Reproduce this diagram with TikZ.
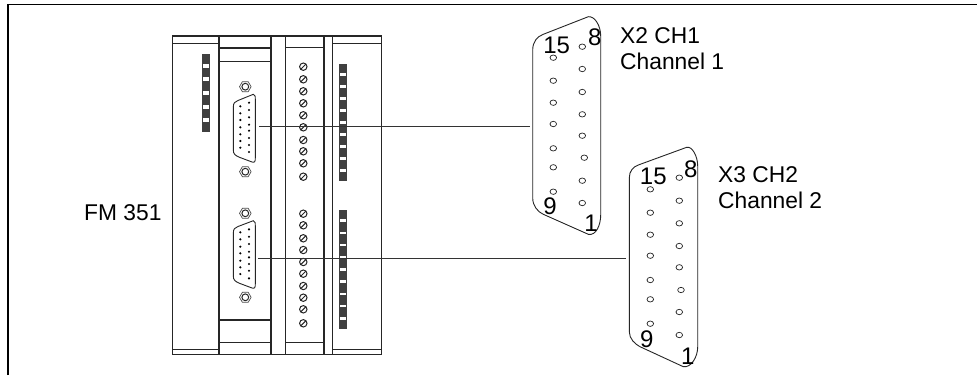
\documentclass[tikz,border=0pt]{standalone}
\usepackage{fontspec}
\setmainfont{Liberation Sans}
\tikzset{
  frameline/.style={line width=1.3pt,black},
  devline/.style={line width=1.1pt,black!85},
  wire/.style={line width=0.8pt,black!80},
  shell/.style={line width=0.9pt,black!85},
  pin/.style={fill=black,circle,inner sep=0pt,minimum size=2.4pt},
  hole/.style={draw=black!85,line width=0.7pt,ellipse,inner sep=0pt,minimum width=6.6pt,minimum height=5.4pt,fill=white},
  lab/.style={font=\fontsize{22.8}{22.8}\selectfont,inner sep=0pt,anchor=base west,text=black},
  num/.style={font=\fontsize{24}{24}\selectfont,inner sep=0pt,text=black},
  led/.style={fill=black!75,draw=black!75,line width=0.4pt},
}
\usetikzlibrary{shapes.geometric}
\begin{document}
\begin{tikzpicture}[x=1pt,y=-1pt]
\useasboundingbox (0,0) rectangle (977,375);
\fill[white] (0,0) rectangle (977,375);
% frame
\draw[frameline] (8,375) -- (8,4.5) -- (977,4.5);
% device housing
\draw[devline] (172.3,36) rectangle (381.7,354.7);
\draw[devline] (219,36) -- (219,354.7);
\draw[devline] (271,36) -- (271,354.7);
\draw[devline] (285.7,36) -- (285.7,354.7);
\draw[devline] (324,36) -- (324,354.7);
\draw[devline] (332.7,36) -- (332.7,354.7);
\draw[devline] (172.3,43.3) -- (219,43.3);
\draw[devline] (219,48) -- (271,48);
\draw[devline] (219,61.7) -- (271,61.7);
\draw[devline] (285.7,47.5) -- (324,47.5);
\draw[devline] (332.7,43.3) -- (381.7,43.3);
\draw[devline] (172.3,349.3) -- (219,349.3);
\draw[devline] (219,320) -- (271,320);
\draw[devline] (219,342.7) -- (271,342.7);
\draw[devline] (285.7,342.3) -- (324,342.3);
\draw[devline] (332.7,349.3) -- (381.7,349.3);
% LED bars
\draw[black!75,line width=0.6pt] (202.3,54.3) rectangle (209.3,131);
\foreach \i in {0,...,5} \fill[led] (202.3,54.3+13.65*\i) rectangle ++(7,8.5);
\draw[black!75,line width=0.6pt] (339,64) rectangle (346.3,180.7);
\foreach \i in {0,...,9} \fill[led] (339,64+12*\i) rectangle ++(7.3,8.6);
\draw[black!75,line width=0.6pt] (339,210) rectangle (346.3,328.3);
\foreach \i in {0,...,9} \fill[led] (339,210+12.2*\i) rectangle ++(7.3,8.5);
% screws
\foreach \v in {66.7,79.3,91.3,103.3,115.3,127.3,140,151.3,163.3,176.7,
                213.7,225.3,238.3,250,262,273.7,286,297.7,309.3,323.3}{
  \draw[line width=1pt,black!85] (303.3,\v) circle (3.7);
  \draw[line width=1pt,black!85] (300.6,\v+2.7) -- (306,\v-2.7);
}
% hex nuts
\foreach \v in {86.7,171.7,213.3,297.3}{
  \draw[line width=0.7pt,black!70] (245.3+5.8,\v) -- (245.3+2.9,\v-5) -- (245.3-2.9,\v-5) -- (245.3-5.8,\v) -- (245.3-2.9,\v+5) -- (245.3+2.9,\v+5) -- cycle;
  \draw[line width=1pt,black!85] (245.3,\v) circle (3.4);
}
% module sockets
\draw[shell] (253.3,94.3) .. controls (255.6,95) and (255.3,97) .. (255.3,99) -- (255.3,158) .. controls (255.3,161) and (255,163) .. (252,162) -- (240,157.5) .. controls (235,155.5) and (233.3,154) .. (233.3,150) -- (233.3,107) .. controls (233.3,103) and (235,101.5) .. (238,100.5) -- cycle;
\draw[shell] (253.3,220.7) .. controls (255.6,221.4) and (255.3,223.4) .. (255.3,225.4) -- (255.3,284) .. controls (255.3,287) and (255,289) .. (252,288) -- (240,283.5) .. controls (235,281.5) and (233.3,280) .. (233.3,276) -- (233.3,233) .. controls (233.3,229) and (235,227.5) .. (238,226.5) -- cycle;
\foreach \v in {106.3,113.3,120,127.3,134.3,141,147.7} \node[pin] at (240.3,\v) {};
\foreach \v in {102.7,110,117.3,124.7,130.7,138,145,152} \node[pin] at (249,\v) {};
\foreach \v in {232.3,239.3,246.7,253.3,260.7,267.3,274} \node[pin] at (240.3,\v) {};
\foreach \v in {229.3,236.7,244,251.7,257.3,264,270.7,278.3} \node[pin] at (249,\v) {};
% big connector 1
\draw[shell] (532.7,198) -- (532.7,50) .. controls (532.7,42) and (537,36.5) .. (543.3,34.3) -- (588.3,16.7) .. controls (595,16) and (600.7,26) .. (600.7,36) -- (600.7,215) .. controls (600.7,225) and (596,236) .. (588.3,234.3) -- (543.3,214.3) .. controls (538,212) and (532.7,206) .. (532.7,198) -- cycle;
\foreach \v in {57.7,80.7,102.7,124,148.3,167.3,191.7} \node[hole] at (553.3,\v) {};
\foreach \v in {46.7,69,92,114.3,135.7,180.7,203} \node[hole] at (582.3,\v) {};
\node[hole] at (584.3,157.7) {};
\node[num] (n15a) at (556.7,45.7) {15};
\node[num] (n8a) at (594.7,37.3) {8};
\node[num] (n9a) at (550,206.7) {9};
\node[num] (n1a) at (591,223) {1};
% big connector 2
\draw[shell] (629.3,331.7) -- (629.3,178) .. controls (629.3,171) and (633,167) .. (638.3,165) -- (686.7,147.3) .. controls (692,146) and (697.7,156) .. (697.7,166) -- (697.7,347) .. controls (697.7,357) and (691,368) .. (683.3,366.7) -- (640,346.7) .. controls (635,344) and (629.3,339) .. (629.3,331.7) -- cycle;
\foreach \v in {189.3,212.7,234.7,255.7,280,299.3,323.7} \node[hole] at (650.3,\v) {};
\foreach \v in {177.7,200.7,223.3,246,267.3,312,335} \node[hole] at (679.3,\v) {};
\node[hole] at (681,290) {};
\node[num] (n15b) at (653.3,176.7) {15};
\node[num] (n8b) at (690.7,169.3) {8};
\node[num] (n9b) at (646.7,339) {9};
\node[num] (n1b) at (687.7,356) {1};
% wires
\coordinate (w1a) at (259.3,126.7);
\coordinate (w1b) at (530,126.7);
\coordinate (w2a) at (258.3,258.3);
\coordinate (w2b) at (626,258.3);
\draw[wire] (w1a) -- (w1b);
\draw[wire] (w2a) -- (w2b);
% labels
\node[lab] (fm) at (84,220) {FM 351};
\node[lab] (x2) at (620,43) {X2 CH1};
\node[lab] (ch1) at (620,69) {Channel 1};
\node[lab] (x3) at (718,182) {X3 CH2};
\node[lab] (ch2) at (718,208) {Channel 2};
\end{tikzpicture}
\end{document}
